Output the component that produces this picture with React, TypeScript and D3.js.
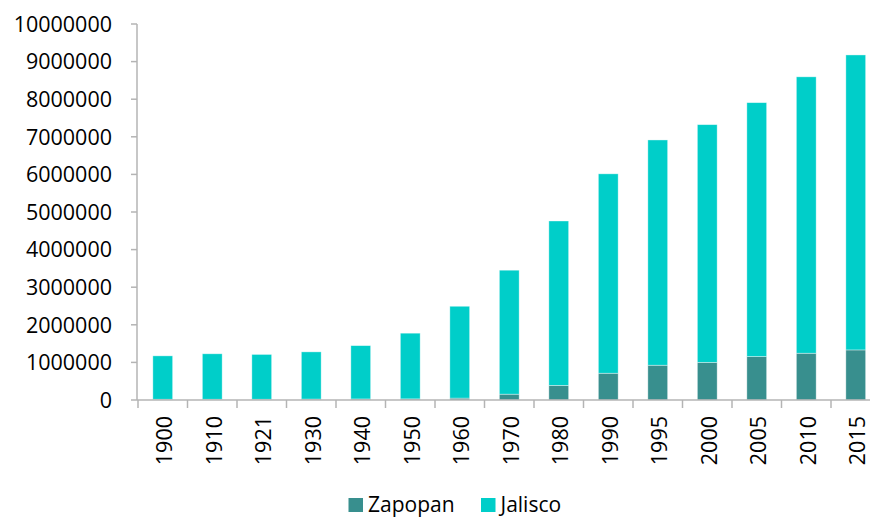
import React, { useEffect, useRef } from 'react';
import * as d3 from 'd3';

// population by census year
const years = ['1900', '1910', '1921', '1930', '1940', '1950', '1960', '1970', '1980', '1990', '1995', '2000', '2005', '2010', '2015'];
const zapopan = [20000, 20000, 20000, 25000, 28000, 30000, 50000, 155000, 389000, 712000, 925000, 1001000, 1156000, 1244000, 1332000];
const jalisco = [1154000, 1209000, 1192000, 1255000, 1418000, 1747000, 2443000, 3297000, 4372000, 5303000, 5991000, 6322000, 6752000, 7351000, 7845000];
const seriesNames = ['Zapopan', 'Jalisco'];
const colors = ['#388f8e', '#00cec9'];
const yTicks = [0, 1000000, 2000000, 3000000, 4000000, 5000000, 6000000, 7000000, 8000000, 9000000, 10000000];

const W = 870;
const H = 517;
const FONT = '"Open Sans", sans-serif';

const App = () => {
  const ref = useRef<SVGGElement>(null);

  useEffect(() => {
    const g = d3.select(ref.current);
    g.selectAll('*').remove();

    const rows = years.map((y, i) => ({ year: y, Zapopan: zapopan[i], Jalisco: jalisco[i] }));
    const stacked = d3.stack<any>().keys(seriesNames)(rows);

    const x = d3.scaleBand()
      .domain(years)
      .range([138, 138 + 15 * 49.5])
      .paddingInner(0.6)
      .paddingOuter(0.3);
    const y = d3.scaleLinear().domain([0, 10000000]).range([400, 24]);

    // bars
    g.selectAll('.series')
      .data(stacked)
      .enter()
      .append('g')
      .attr('fill', (d, i) => colors[i])
      .selectAll('rect')
      .data(d => d)
      .enter()
      .append('rect')
      .attr('x', (d: any) => x(d.data.year)!)
      .attr('width', x.bandwidth())
      .attr('y', d => y(d[1]))
      .attr('height', d => y(d[0]) - y(d[1]))
      .attr('stroke', '#ffffff')
      .attr('stroke-opacity', 0.5)
      .attr('stroke-width', 0.75);

    // y axis
    const axisColor = '#b4b4b4';
    g.append('line')
      .attr('x1', 137).attr('x2', 137)
      .attr('y1', y(10000000)).attr('y2', 400)
      .attr('stroke', axisColor).attr('stroke-width', 1.5);
    g.selectAll('.ytick')
      .data(yTicks)
      .enter()
      .append('line')
      .attr('x1', 131).attr('x2', 137)
      .attr('y1', d => y(d)).attr('y2', d => y(d))
      .attr('stroke', axisColor).attr('stroke-width', 1.5);
    g.selectAll('.ylabel')
      .data(yTicks)
      .enter()
      .append('text')
      .attr('x', 112)
      .attr('y', d => y(d))
      .attr('dy', '0.36em')
      .attr('text-anchor', 'end')
      .attr('font-family', FONT)
      .attr('font-size', 21.5)
      .attr('fill', '#000')
      .text(d => String(d));

    // x axis
    g.append('line')
      .attr('x1', 137).attr('x2', W)
      .attr('y1', 400).attr('y2', 400)
      .attr('stroke', axisColor).attr('stroke-width', 1.5);
    const step = x.step();
    g.selectAll('.xtick')
      .data(years)
      .enter()
      .append('line')
      .attr('x1', (d, i) => 138 + i * step).attr('x2', (d, i) => 138 + i * step)
      .attr('y1', 400).attr('y2', 408)
      .attr('stroke', axisColor).attr('stroke-width', 1.5);
    g.selectAll('.xlabel')
      .data(years)
      .enter()
      .append('text')
      .attr('transform', d => 'translate(' + (x(d)! + x.bandwidth() / 2 + 9.5) + ',416) rotate(-90)')
      .attr('text-anchor', 'end')
      .attr('font-family', FONT)
      .attr('font-size', 21.5)
      .attr('fill', '#000')
      .text(d => d);

    // legend
    const legendX = [348.5, 481];
    const legend = g.selectAll('.legend')
      .data(seriesNames)
      .enter()
      .append('g')
      .attr('transform', (d, i) => 'translate(' + legendX[i] + ',498)');
    legend.append('rect')
      .attr('width', 14.5).attr('height', 14)
      .attr('fill', (d, i) => colors[i]);
    legend.append('text')
      .attr('x', 19.5)
      .attr('y', 13.5)
      .attr('font-family', FONT)
      .attr('font-size', 21)
      .attr('fill', '#000')
      .text(d => d);
  }, []);

  return (
    <svg width={W} height={H} style={{ position: 'absolute', left: 0, top: 0, background: '#fff' }}>
      <g ref={ref} />
    </svg>
  );
};

export default App;
